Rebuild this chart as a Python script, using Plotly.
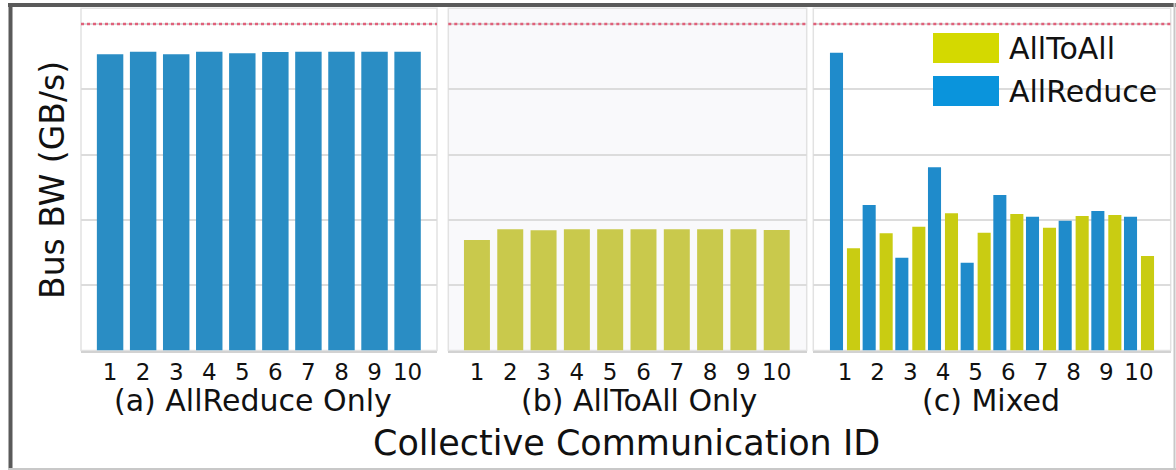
import plotly.graph_objects as go

# Collective IDs and measured bus bandwidth (GB/s)
ids = [1, 2, 3, 4, 5, 6, 7, 8, 9, 10]
allreduce_only = [181.4, 183.0, 181.4, 183.0, 182.1, 182.8, 183.0, 183.0, 183.0, 183.0]
alltoall_only = [67.7, 74.2, 73.6, 74.2, 74.2, 74.2, 74.2, 74.2, 74.2, 73.8]
mixed_allreduce = [182.4, 89.1, 56.8, 112.2, 53.8, 95.3, 82.0, 79.5, 85.5, 82.0]
mixed_alltoall = [62.6, 71.8, 75.8, 84.0, 72.2, 83.6, 75.2, 82.4, 83.0, 57.9]
link_peak = 200  # peak bus bandwidth reference
panel_titles = ["(a) AllReduce Only", "(b) AllToAll Only", "(c) Mixed"]
legend_names = ["AllToAll", "AllReduce"]

W, H = 1176, 470
FONT = "DejaVu Sans"
BLUE_A = "#2a8dc4"
YEL_B = "#c9c94c"
BLUE_C = "#1f8bcb"
YEL_C = "#c9cc12"
BLUE_L = "#0a94dc"
YEL_L = "#d4d900"
INK = "#111111"


def px(x):
    return x / W


def py(y):
    return 1 - y / H


y_dom = [py(350.5), py(8.3)]
x_doms = [[px(81), px(437)], [px(448.3), px(806.7)], [px(813.3), px(1170.7)]]
x_ranges = [[0.12, 10.89], [0.14, 10.9], [0.03, 10.97]]
y_range = [0, 40 * 342.2 / 65.3]

fig = go.Figure()

fig.add_trace(go.Bar(x=ids, y=allreduce_only, width=0.8, marker=dict(color=BLUE_A, line=dict(width=0)),
                     xaxis="x", yaxis="y", showlegend=False))
fig.add_trace(go.Bar(x=ids, y=alltoall_only, width=0.78, marker=dict(color=YEL_B, line=dict(width=0)),
                     xaxis="x2", yaxis="y2", showlegend=False))
fig.add_trace(go.Bar(x=ids, y=mixed_allreduce, width=0.4, offset=-0.46,
                     marker=dict(color=BLUE_C, line=dict(width=0)),
                     xaxis="x3", yaxis="y3", showlegend=False))
fig.add_trace(go.Bar(x=ids, y=mixed_alltoall, width=0.4, offset=0.06,
                     marker=dict(color=YEL_C, line=dict(width=0)),
                     xaxis="x3", yaxis="y3", showlegend=False))

layout = dict(
    width=W, height=H,
    margin=dict(l=0, r=0, t=0, b=0),
    paper_bgcolor="white",
    plot_bgcolor="white",
    barmode="overlay",
    font=dict(family=FONT, color=INK),
    shapes=[],
    annotations=[],
)

bgs = ["white", "#f9f9fb", "white"]
for i in range(3):
    sx = "" if i == 0 else str(i + 1)
    layout["xaxis" + sx] = dict(
        domain=x_doms[i], range=x_ranges[i], anchor="y" + sx,
        tickmode="array", tickvals=ids, ticktext=[str(v) for v in ids],
        tickfont=dict(size=23, family=FONT, color=INK),
        ticks="", showgrid=False, zeroline=False,
        showline=True, linecolor="#d2d2d2", linewidth=2, fixedrange=True,
    )
    layout["yaxis" + sx] = dict(
        domain=y_dom, range=y_range, anchor="x" + sx,
        tickmode="linear", tick0=0, dtick=40, showticklabels=False, ticks="",
        showgrid=True, gridcolor="#dcdcdc", gridwidth=1.5,
        zeroline=False, showline=False, fixedrange=True,
    )
    xr = "x" + sx + " domain"
    yr = "y" + sx + " domain"
    # panel background and frame
    layout["shapes"].append(dict(type="rect", xref=xr, yref=yr, x0=0, x1=1, y0=0, y1=1,
                                 fillcolor=bgs[i], line=dict(color="#e2e2e2", width=1.5), layer="below"))
    # peak bandwidth reference line
    layout["shapes"].append(dict(type="line", xref=xr, yref="y" + sx, x0=0, x1=1, y0=link_peak, y1=link_peak,
                                 line=dict(color="#e0607a", width=2.5, dash="dot"), layer="above"))

# subplot captions
cap_x = [253, 639, 991]
for t, cx in zip(panel_titles, cap_x):
    layout["annotations"].append(dict(text=t, xref="paper", yref="paper", x=px(cx), y=py(400),
                                      xanchor="center", yanchor="middle", showarrow=False,
                                      font=dict(size=30, family=FONT, color=INK)))

# axis titles
layout["annotations"].append(dict(text="Collective Communication ID", xref="paper", yref="paper",
                                  x=px(626), y=py(443), xanchor="center", yanchor="middle", showarrow=False,
                                  font=dict(size=35, family=FONT, color=INK)))
layout["annotations"].append(dict(text="Bus BW (GB/s)", xref="paper", yref="paper",
                                  x=px(52), y=py(180), xanchor="center", yanchor="middle", showarrow=False,
                                  textangle=-90, font=dict(size=33, family=FONT, color=INK)))

# legend swatches and labels inside panel (c)
for name, col, top in zip(legend_names, [YEL_L, BLUE_L], [33, 76]):
    layout["shapes"].append(dict(type="rect", xref="paper", yref="paper",
                                 x0=px(933), x1=px(999), y0=py(top + 30), y1=py(top),
                                 fillcolor=col, line=dict(width=0), layer="above"))
    layout["annotations"].append(dict(text=name, xref="paper", yref="paper", x=px(1007), y=py(top + 15),
                                      xanchor="left", yanchor="middle", showarrow=False,
                                      font=dict(size=30, family=FONT, color=INK)))

# outer frame
layout["shapes"] += [
    dict(type="line", xref="paper", yref="paper", x0=px(8), x1=1, y0=py(5), y1=py(5),
         line=dict(color="#5a5a5a", width=4)),
    dict(type="line", xref="paper", yref="paper", x0=px(10.5), x1=px(10.5), y0=0, y1=py(3),
         line=dict(color="#5a5a5a", width=4)),
    dict(type="line", xref="paper", yref="paper", x0=px(1174.5), x1=px(1174.5), y0=0, y1=py(3),
         line=dict(color="#c8c8c8", width=2)),
    dict(type="line", xref="paper", yref="paper", x0=px(8), x1=1, y0=py(469), y1=py(469),
         line=dict(color="#c8c8c8", width=2)),
]

fig.update_layout(**layout)
fig.write_html("out.html")
